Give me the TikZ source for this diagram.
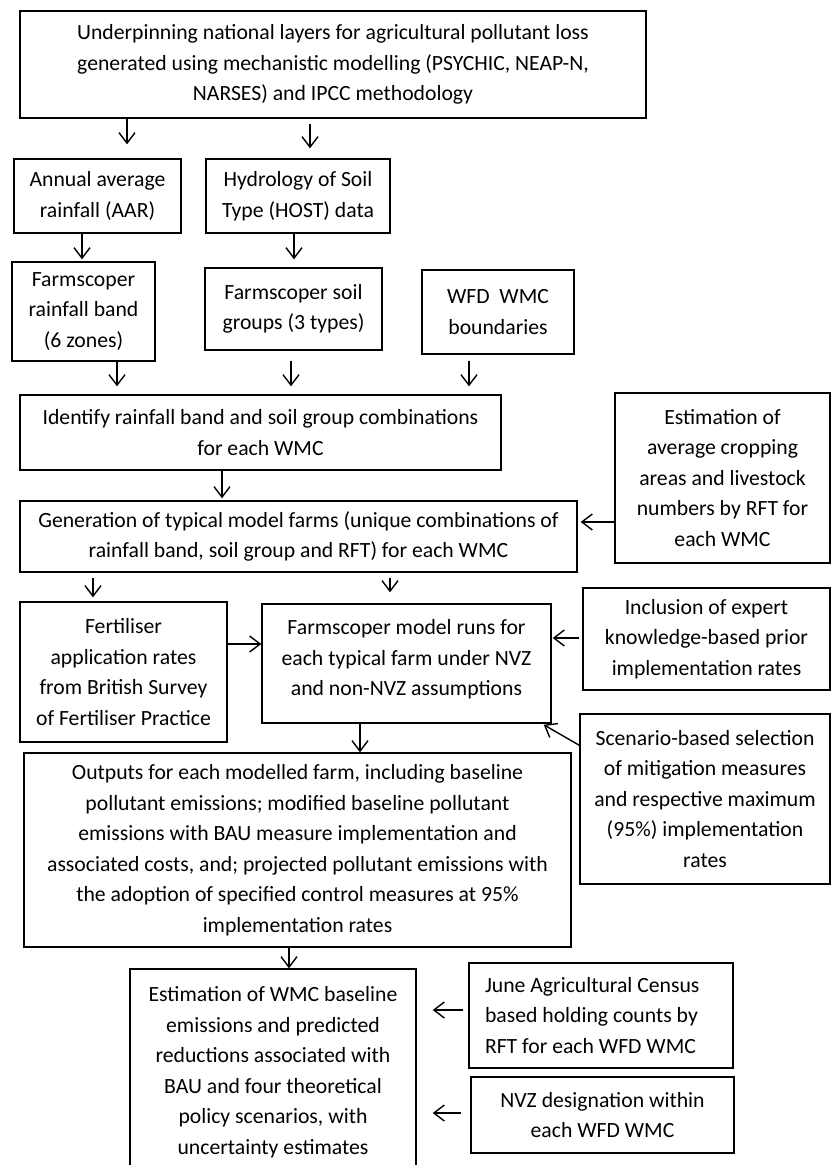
\documentclass[tikz,border=0pt]{standalone}
\usepackage{fontspec}
\setmainfont{Carlito}
\usetikzlibrary{arrows.meta,calc}
\begin{document}
\begin{tikzpicture}[x=1pt,y=-1pt,
  box/.style={draw, line width=1.4pt, inner sep=0pt, align=center, font=\fontsize{21.7}{30.5}\selectfont},
  arr/.style={-{Straight Barb[length=10.5pt,width=16pt]}, line width=1.4pt}]
\useasboundingbox (0,0) rectangle (831,1165);
\clip (0,0) rectangle (831,1165);
\fill[white] (0,0) rectangle (831,1165);
% boxes
\node[box, minimum width=626pt, minimum height=107pt] (top) at (333,64.5) {Underpinning national layers for agricultural pollutant loss\\generated using mechanistic modelling (PSYCHIC, NEAP-N,\\NARSES) and IPCC methodology};
\node[box, minimum width=167pt, minimum height=74pt] (ann) at (97.5,196) {Annual average\\rainfall (AAR)};
\node[box, minimum width=184pt, minimum height=74pt] (host) at (298,196) {Hydrology of Soil\\Type (HOST) data};
\node[box, minimum width=143pt, minimum height=99pt] (band) at (83.5,311.5) {Farmscoper\\rainfall band\\(6 zones)};
\node[box, minimum width=177pt, minimum height=82pt] (soil) at (293.5,309) {Farmscoper soil\\groups (3 types)};
\node[box, minimum width=152pt, minimum height=84pt] (wfd) at (498,312) {WFD\ \ WMC\\boundaries};
\node[box, minimum width=481pt, minimum height=75pt] (ident) at (260.5,432.5) {Identify rainfall band and soil group combinations\\for each WMC};
\node[box, minimum width=215pt, minimum height=170pt] (crop) at (722.5,478) {Estimation of\\average cropping\\areas and livestock\\numbers by RFT for\\each WMC};
\node[box, minimum width=557pt, minimum height=71pt] (gen) at (298.5,536.5) {Generation of typical model farms (unique combinations of\\rainfall band, soil group and RFT) for each WMC};
\node[box, minimum width=207pt, minimum height=140pt] (fert) at (123.5,672) {Fertiliser\\application rates\\from British Survey\\of Fertiliser Practice};
\node[box, minimum width=289pt, minimum height=119pt, text depth=12pt] (runs) at (406.5,663.5) {Farmscoper model runs for\\each typical farm under NVZ\\and non-NVZ assumptions};
\node[box, minimum width=247pt, minimum height=102pt] (incl) at (706.5,639) {Inclusion of expert\\knowledge-based prior\\implementation rates};
\node[box, minimum width=250pt, minimum height=170pt] (scen) at (705,799) {Scenario-based selection\\of mitigation measures\\and respective maximum\\(95\%) implementation\\rates};
\node[box, minimum width=547pt, minimum height=194pt] (outp) at (297.5,850) {Outputs for each modelled farm, including baseline\\pollutant emissions; modified baseline pollutant\\emissions with BAU measure implementation and\\associated costs, and; projected pollutant emissions with\\the adoption of specified control measures at 95\%\\implementation rates};
\node[box, minimum width=286pt, minimum height=206pt] (wmc) at (273,1072) {Estimation of WMC baseline\\emissions and predicted\\reductions associated with\\BAU and four theoretical\\policy scenarios, with\\uncertainty estimates};
\node[box, minimum height=105pt, text width=232pt, inner xsep=16pt, align=flush left] (june) at (601,1015.5) {June Agricultural Census\\based holding counts by\\RFT for each WFD WMC};
\node[box, minimum width=263pt, minimum height=76pt] (nvz) at (602.5,1115) {NVZ designation within\\each WFD WMC};
% arrow guide coordinates
\coordinate (c1) at (127,0);
\coordinate (c2) at (310,0);
\coordinate (c3) at (82,0);
\coordinate (c4) at (294,0);
\coordinate (c5) at (117,0);
\coordinate (c6) at (291,0);
\coordinate (c7) at (469,0);
\coordinate (c8) at (222,0);
\coordinate (c9) at (93,0);
\coordinate (c10) at (390,0);
\coordinate (c11) at (360,0);
\coordinate (c12) at (289,0);
\coordinate (h1) at (0,522);
\coordinate (h2) at (0,644);
\coordinate (h3) at (0,638);
\coordinate (h4) at (0,1010);
\coordinate (h5) at (0,1113);
% arrows
\draw[arr, shorten >=14pt] (top.south -| c1) -- (ann.north -| c1);
\draw[arr, shorten <=5pt, shorten >=10pt] (top.south -| c2) -- (host.north -| c2);
\draw[arr, shorten >=2pt] (ann.south -| c3) -- (band.north -| c3);
\draw[arr, shorten >=8pt] (host.south -| c4) -- (soil.north -| c4);
\draw[arr, shorten <=0pt, shorten >=8pt] (band.south -| c5) -- (ident.north -| c5);
\draw[arr, shorten <=10pt, shorten >=8pt] (soil.south -| c6) -- (ident.north -| c6);
\draw[arr, shorten <=6pt, shorten >=8pt] (wfd.south -| c7) -- (ident.north -| c7);
\draw[arr, shorten >=2pt] (ident.south -| c8) -- (gen.north -| c8);
\draw[arr, shorten >=3pt] (crop.west |- h1) -- (gen.east |- h1);
\draw[arr, shorten <=5pt, shorten >=4pt] (gen.south -| c9) -- (fert.north -| c9);
\draw[arr, shorten <=5pt, shorten >=11pt] (gen.south -| c10) -- (runs.north -| c10);
\draw[arr] (fert.east |- h2) -- (runs.west |- h2);
\draw[arr, shorten <=3pt, shorten >=1pt] (incl.west |- h3) -- (runs.east |- h3);
\draw[arr] ($(scen.north west)+(0,32)$) -- ($(runs.south east)+(-8,1)$);
\draw[arr] (runs.south -| c11) -- (outp.north -| c11);
\draw[arr] (outp.south -| c12) -- (wmc.north -| c12);
\draw[arr, shorten <=5pt, shorten >=16pt] (june.west |- h4) -- (wmc.east |- h4);
\draw[arr, shorten <=9pt, shorten >=16pt] (nvz.west |- h5) -- (wmc.east |- h5);
\end{tikzpicture}
\end{document}
